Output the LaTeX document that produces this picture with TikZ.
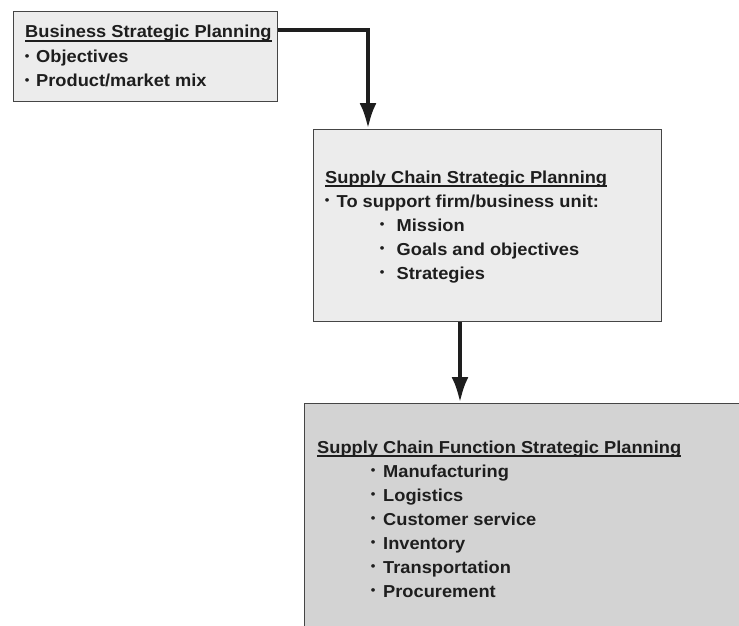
\documentclass[tikz,border=0pt]{standalone}
\usepackage{fontspec}
\setmainfont[FakeStretch=1.055]{Liberation Sans}
\usetikzlibrary{arrows.meta}
\definecolor{frame}{HTML}{454545}
\definecolor{ink}{HTML}{1E1E1E}
\definecolor{paleA}{HTML}{ECECEC}
\definecolor{paleB}{HTML}{D3D3D3}
% underline at a fixed depth, crossing descenders
\newcommand{\ulbar}[1]{\setbox0\hbox{#1}\rlap{\rule[-3.6pt]{\wd0}{1.4pt}}\box0}
% small bullet followed by a fixed gap
\newcommand{\dotgap}[1]{\hbox to #1{\hskip-0.3pt\raisebox{2.6pt}{\scalebox{0.72}{\textbullet}}\hfil}}
\begin{document}
\begin{tikzpicture}[x=1pt,y=-1pt,
  box/.style={draw=frame, line width=1.4pt, rectangle, anchor=north west, inner sep=0pt},
  txt/.style={anchor=base west, inner sep=0pt, text=ink, font=\fontsize{17.3}{24}\selectfont\bfseries},
  conn/.style={draw=ink, line width=4.6pt, -{Latex[length=26pt,width=17pt]}}]
\useasboundingbox (0,0) rectangle (739,626);
\clip (0,0) rectangle (739,626);

% planning levels
\node[box, fill=paleA, minimum width=264pt, minimum height=90pt] (b1) at (12.5,11) {};
\node[box, fill=paleA, minimum width=348pt, minimum height=192pt] (b2) at (313,129) {};
\node[box, fill=paleB, minimum width=460pt, minimum height=260pt] (b3) at (304,403) {};

% level 1 text
\node[txt] (t1) at (25,38) {\ulbar{Business Strategic Planning}};
\node[txt] (t1a) at (25,63) {\dotgap{11pt}Objectives};
\node[txt] (t1b) at (25,87) {\dotgap{11pt}Product/market mix};

% level 2 text
\node[txt] (t2) at (325,183) {\ulbar{Supply Chain Strategic Planning}};
\node[txt] (t2a) at (325,207.5) {\dotgap{11.5pt}To support firm/business unit:};
\node[txt] (t2b) at (380,231.5) {\dotgap{16.5pt}Mission};
\node[txt] (t2c) at (380,255.5) {\dotgap{16.5pt}Goals and objectives};
\node[txt] (t2d) at (380,279.5) {\dotgap{16.5pt}Strategies};

% level 3 text
\node[txt] (t3) at (317,453) {\ulbar{Supply Chain Function Strategic Planning}};
\node[txt] (t3a) at (371,477) {\dotgap{12pt}Manufacturing};
\node[txt] (t3b) at (371,501) {\dotgap{12pt}Logistics};
\node[txt] (t3c) at (371,525) {\dotgap{12pt}Customer service};
\node[txt] (t3d) at (371,549) {\dotgap{12pt}Inventory};
\node[txt] (t3e) at (371,573) {\dotgap{12pt}Transportation};
\node[txt] (t3f) at (371,597) {\dotgap{12pt}Procurement};

% connectors
\draw[conn] ([yshift=-19pt]b1.north east) -| ([xshift=55pt]b2.north west);
\draw[conn] ([xshift=147pt]b2.south west) -- ([xshift=156pt]b3.north west);
\end{tikzpicture}
\end{document}
